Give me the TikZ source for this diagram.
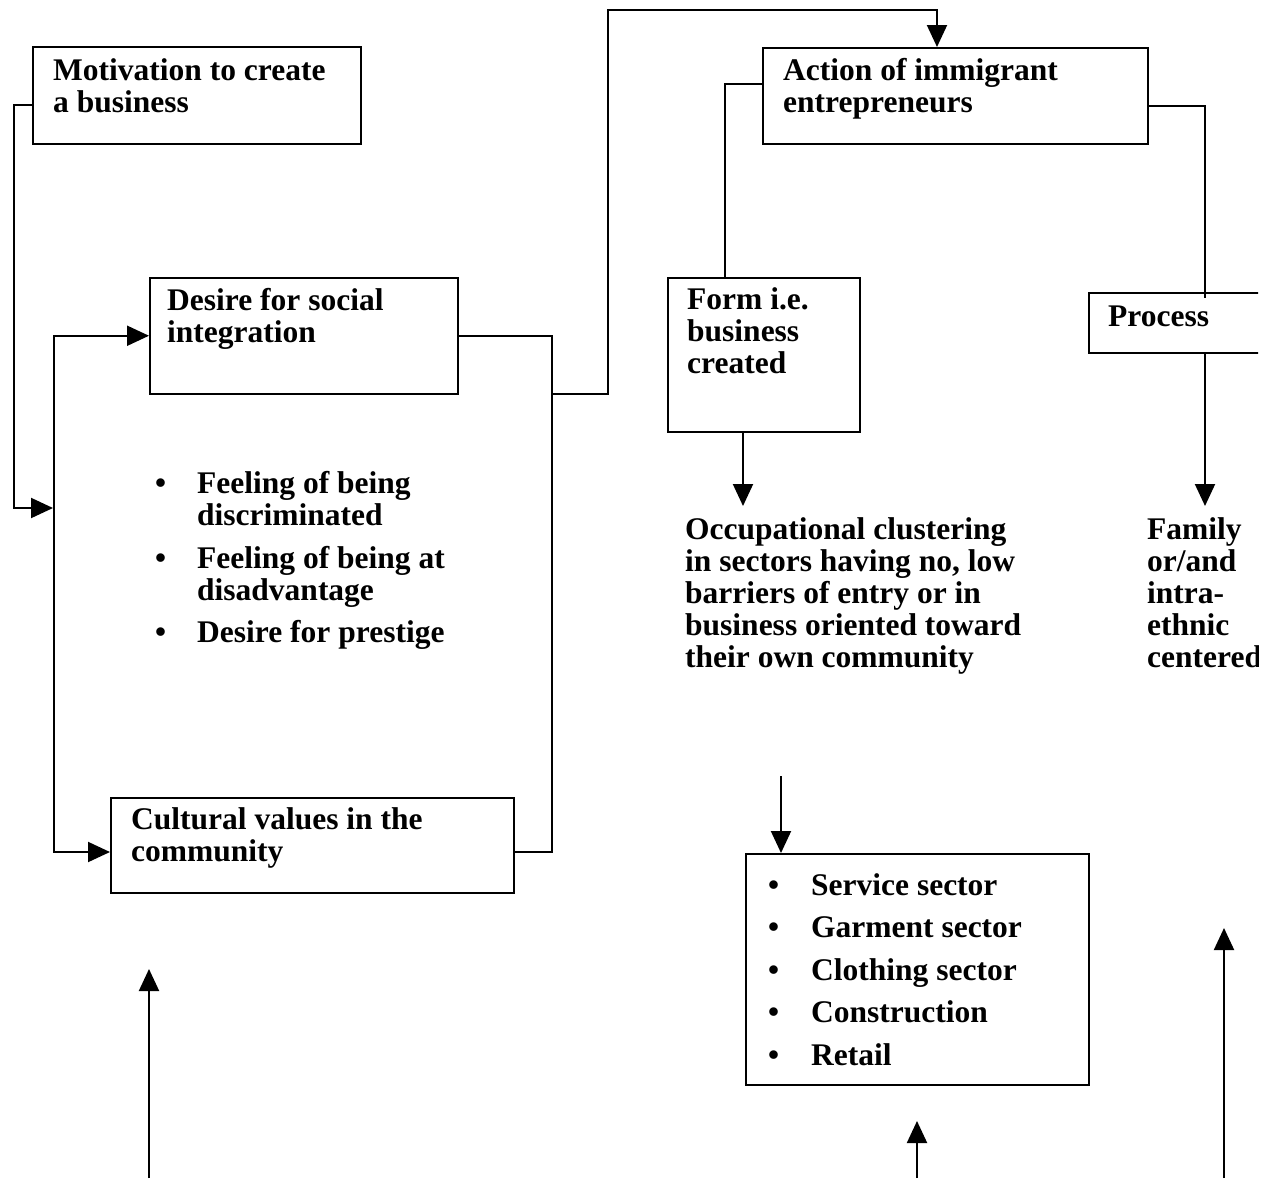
\documentclass[tikz,border=0pt]{standalone}
\usepackage{fontspec}
\newfontfamily\dfont{Liberation Serif}
\usetikzlibrary{arrows.meta,calc}
\begin{document}
\begin{tikzpicture}[x=1pt,y=-1pt,
  box/.style={draw=black,line width=1.5pt,inner sep=0pt,anchor=north west},
  % multi-line texts are placed by the baseline of their last line
  txt/.style={anchor=base west,inner sep=0pt,align=left,
              font=\dfont\bfseries\fontsize{31.5}{32}\selectfont},
  conn/.style={line width=2pt},
  tip/.style={-{Triangle[length=22pt,width=20pt]}},
  tips/.style={{Triangle[length=22pt,width=20pt]}-{Triangle[length=22pt,width=20pt]}},
]
\useasboundingbox[fill=white] (0,0) rectangle (1277,1178);

% ---- boxes ----
\node[box,minimum width=328pt,minimum height=97pt]  (mot)  at (32,46)  {};
\node[box,minimum width=308pt,minimum height=116pt] (des)  at (149,277) {};
\node[box,minimum width=403pt,minimum height=95pt]  (cul)  at (110,797) {};
\node[box,minimum width=385pt,minimum height=96pt]  (act)  at (762,47)  {};
\node[box,minimum width=192pt,minimum height=154pt] (form) at (667,277) {};
\node[box,minimum width=343pt,minimum height=231pt] (sect) at (745,853) {};

% ---- texts ----
\node[txt] (motT)  at (53,112)  {Motivation to create\\a business};
\node[txt] (desT)  at (167,342) {Desire for social\\integration};
\node[txt] (culT)  at (131,861) {Cultural values in the\\community};
\node[txt] (actT)  at (783,112) {Action of immigrant\\entrepreneurs};
\node[txt] (formT) at (687,373) {Form i.e.\\business\\created};
\node[txt] (occT)  at (685,667) {Occupational clustering\\in sectors having no, low\\barriers of entry or in\\business oriented toward\\their own community};
\node[txt] (feel)  at (155,642) {\makebox[42pt][l]{•}Feeling of being\\
  \hspace*{42pt}discriminated\\[11pt]
  \makebox[42pt][l]{•}Feeling of being at\\
  \hspace*{42pt}disadvantage\\[10pt]
  \makebox[42pt][l]{•}Desire for prestige};
\node[txt] (sectT) at (768,1065) {\makebox[43pt][l]{•}Service sector\\[10.5pt]
  \makebox[43pt][l]{•}Garment sector\\[10.5pt]
  \makebox[43pt][l]{•}Clothing sector\\[10.5pt]
  \makebox[43pt][l]{•}Construction\\[10.5pt]
  \makebox[43pt][l]{•}Retail};

% ---- right column, cut at the sheet edge ----
\begin{scope}
  \clip (0,0) rectangle (1258,1178);
  \node[box,minimum width=250pt,minimum height=60pt] (proc) at (1088,292) {};
  \node[txt] (procT) at (1108,326) {Process};
  \node[txt] (famT)  at (1147,667) {Family\\or/and\\intra-\\ethnic\\centered};
\end{scope}

% ---- attachment points ----
\coordinate (m1)     at (32,105);
\coordinate (mIn)    at (53,508);
\coordinate (culIn)  at (110,852);
\coordinate (culOut) at (513,852);
\coordinate (j1)     at (552,394);
\coordinate (actIn)  at (937,47);
\coordinate (aL)     at (762,84);
\coordinate (formTop) at (725,277);
\coordinate (aR)     at (1147,106);
\coordinate (procTop) at (1205,298);
\coordinate (formOut) at (743,431);
\coordinate (occIn)  at (743,506);
\coordinate (procOut) at (1205,352);
\coordinate (famIn)  at (1205,506);
\coordinate (sectIn) at (781,853);
\coordinate (sectSrc) at (781,776);
\coordinate (up1a) at (149,1178);  \coordinate (up1b) at (149,969);
\coordinate (up2a) at (917,1178);  \coordinate (up2b) at (917,1121);
\coordinate (up3a) at (1224,1178); \coordinate (up3b) at (1224,928);

% ---- connectors ----
\draw[conn,tip]  (m1) -| (14,508) -- (mIn);
\draw[conn,tips] (des.west) -| (54,852) -- (culIn);
\draw[conn]      (des.east) -| (552,852) -- (culOut);
\draw[conn,tip]  (j1) -- (608,394) -- (608,10) -- (937,10) -- (actIn);
\draw[conn]      (aL) -| (formTop);
\draw[conn]      (aR) -| (procTop);
\draw[conn,tip]  (formOut) -- (occIn);
\draw[conn,tip]  (procOut) -- (famIn);
\draw[conn,tip]  (sectSrc) -- (sectIn);
\draw[conn,tip]  (up1a) -- (up1b);
\draw[conn,tip]  (up2a) -- (up2b);
\draw[conn,tip]  (up3a) -- (up3b);
\end{tikzpicture}
\end{document}
